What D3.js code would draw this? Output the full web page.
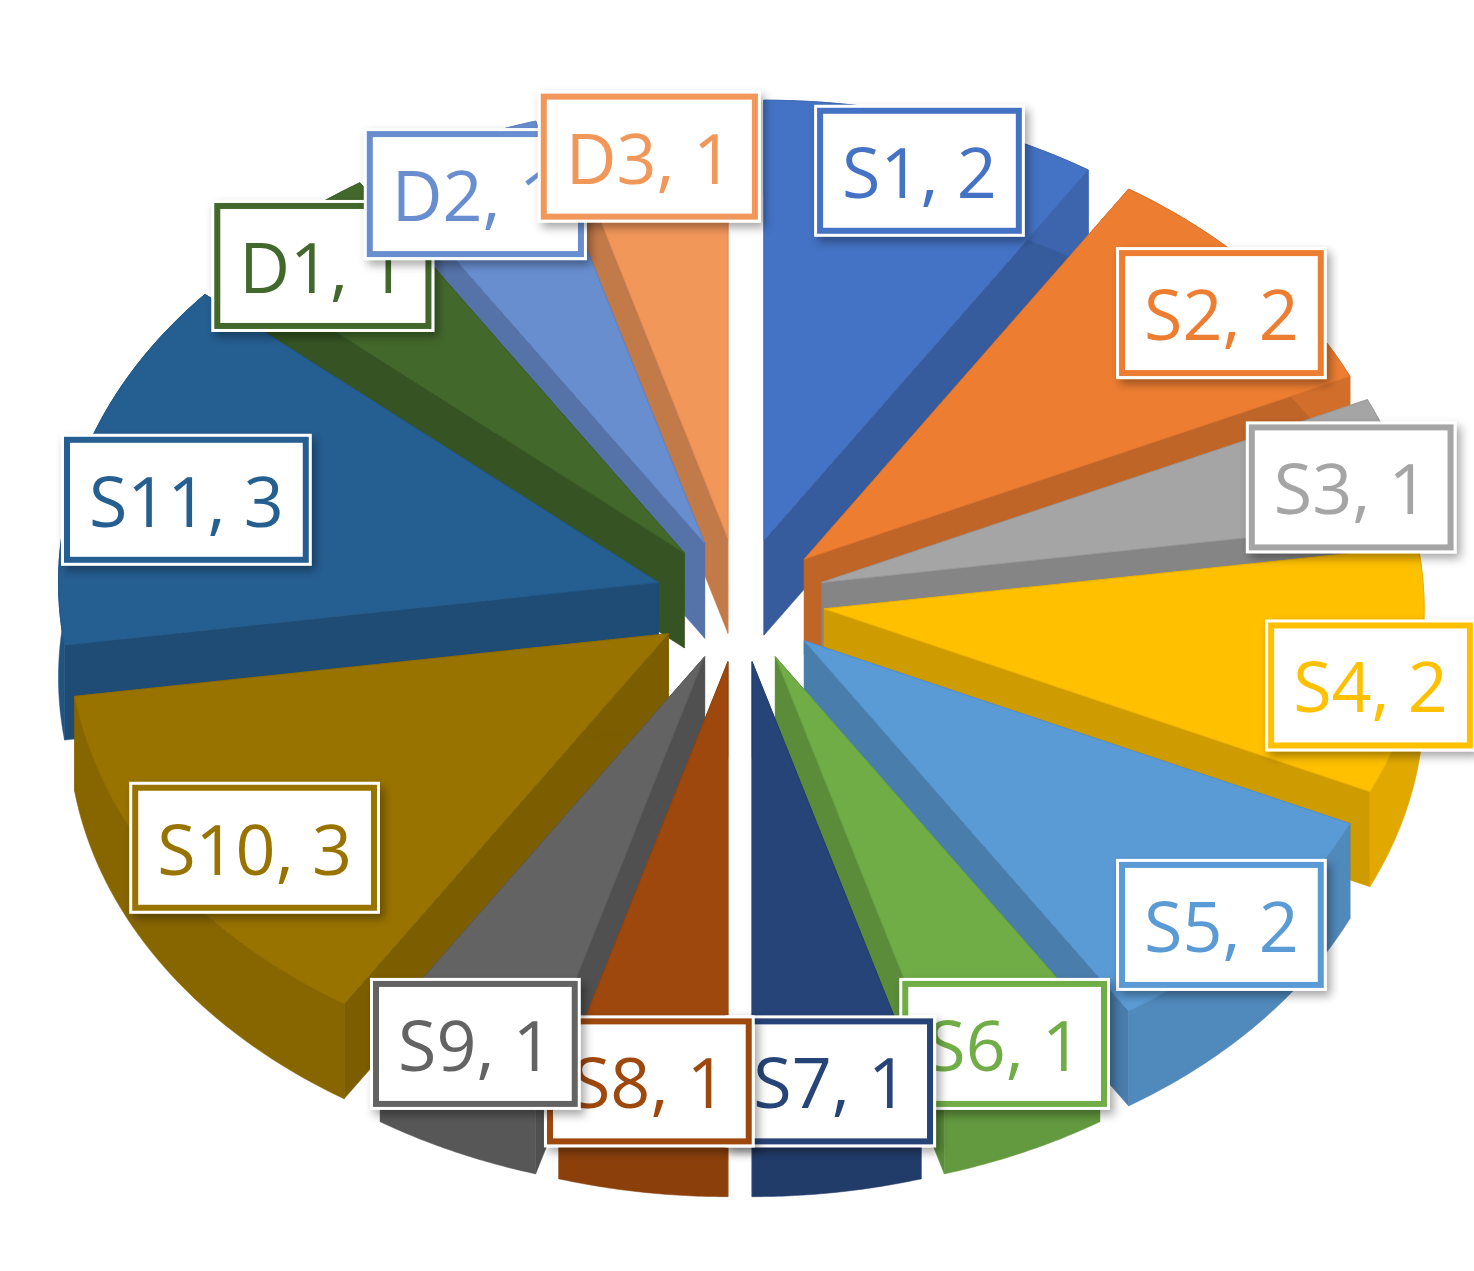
<!DOCTYPE html>
<html><head><meta charset="utf-8">
<script src="https://cdn.jsdelivr.net/npm/d3@7"></script>
<style>body{margin:0;background:#fff}</style></head>
<body><svg id="c" width="1474" height="1271">
<defs><filter id="sh" x="-20%" y="-20%" width="140%" height="140%"><feDropShadow dx="4" dy="5" stdDeviation="5" flood-color="#000" flood-opacity="0.35"/></filter></defs>
</svg>
<script>
const categories = ["S1","S2","S3","S4","S5","S6","S7","S8","S9","S10","S11","D1","D2","D3"];
const values = [2,2,1,2,2,1,1,1,1,3,3,1,1,1];
const colors = ["#4472c4","#ed7d31","#a5a5a5","#ffc000","#5b9bd5","#70ad47","#264478","#9e480e","#636363","#997300","#255e91","#43682b","#698ed0","#f1975a"];

const svg = d3.select("#c");
const cx = 740, cy = 600, rx = 600, ry = 440, depth = 95, explode = 85;
const pie = d3.pie().sort(null).value(d => d.v)(categories.map((c,i)=>({c, v:values[i], col:colors[i]})));
const proj = (a, r, ox, oy, dz=0) => [cx + ox + r*Math.sin(a)*rx, cy + oy - r*Math.cos(a)*ry + dz];

const slices = pie.map(p => {
  const mid = (p.startAngle + p.endAngle)/2;
  const ox = Math.sin(mid)*explode, oy = -Math.cos(mid)*explode*ry/rx;
  return {...p, mid, ox, oy};
});
slices.sort((a,b)=> (-Math.cos(a.mid)) - (-Math.cos(b.mid)));

const line = d3.line();
slices.forEach(s => {
  const n = 40, arcTop = [], arcBot = [];
  for (let i=0;i<=n;i++){ const a = s.startAngle + (s.endAngle-s.startAngle)*i/n;
    arcTop.push(proj(a,1,s.ox,s.oy)); arcBot.push(proj(a,1,s.ox,s.oy,depth)); }
  const c0 = proj(0,0,s.ox,s.oy), c1 = proj(0,0,s.ox,s.oy,depth);
  const dark = d3.color(s.data.col).darker(0.6), dark2 = d3.color(s.data.col).darker(0.35);
  const g = svg.append("g");
  [s.startAngle, s.endAngle].forEach(a => {
    const p = proj(a,1,s.ox,s.oy), q = proj(a,1,s.ox,s.oy,depth);
    g.append("path").attr("d", line([c0,p,q,c1])+"Z").attr("fill", dark).attr("stroke", dark).attr("stroke-width",0.5);
  });
  g.append("path").attr("d", line(arcTop.concat(arcBot.slice().reverse()))+"Z").attr("fill", dark2).attr("stroke", dark2).attr("stroke-width",0.5);
  g.append("path").attr("d", line([c0].concat(arcTop))+"Z").attr("fill", s.data.col).attr("stroke", d3.color(s.data.col).darker(0.2)).attr("stroke-width",1);
});

pie.forEach(p => {
  const mid = (p.startAngle+p.endAngle)/2;
  const r = p.data.v >= 3 ? 0.82 : 0.92;
  const ex = Math.sin(mid)*explode, ey = -Math.cos(mid)*explode*ry/rx;
  const [x,y] = proj(mid, r, ex, ey, depth*0.2);
  const g = svg.append("g");
  const halo = g.append("rect").attr("fill","#fff").attr("filter","url(#sh)");
  const rect = g.append("rect").attr("fill","rgba(255,255,255,0.93)").attr("stroke", p.data.col).attr("stroke-width",6);
  const t = g.append("text").attr("x",x).attr("y",y).attr("text-anchor","middle").attr("dominant-baseline","central")
    .attr("font-family","Open Sans, Liberation Sans, sans-serif").attr("font-size",70).attr("fill",p.data.col)
    .text(`${p.data.c}, ${p.data.v}`);
  const b = t.node().getBBox();
  rect.attr("x", b.x-22).attr("y", y-60).attr("width", b.width+44).attr("height", 120);
  halo.attr("x", b.x-28).attr("y", y-66).attr("width", b.width+56).attr("height", 132);
});
</script></body></html>
